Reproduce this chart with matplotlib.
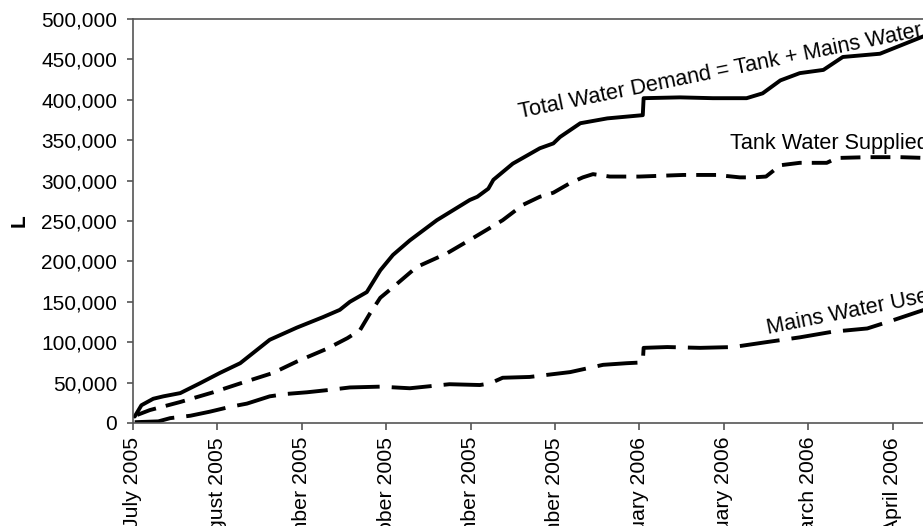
import matplotlib
matplotlib.use('Agg')
import matplotlib.pyplot as plt
from matplotlib.ticker import FuncFormatter

# x = months since 1 July 2005, y = thousands of litres (cumulative)
month_labels = ['July 2005', 'August 2005', 'September 2005', 'October 2005',
                'November 2005', 'December 2005', 'January 2006', 'February 2006',
                'March 2006', 'April 2006']

total_m = [0.02, 0.1, 0.24, 0.36, 0.56, 0.79, 1.03, 1.27, 1.62, 1.94, 2.25, 2.45,
           2.57, 2.77, 2.93, 3.08, 3.28, 3.6, 3.99, 4.08, 4.21, 4.27, 4.5, 4.82,
           4.98, 5.06, 5.3, 5.62, 6.04, 6.05, 6.48, 6.87, 7.27, 7.46, 7.67, 7.9,
           8.18, 8.41, 8.85, 9.4]
total_v = [8, 22, 30, 33, 37, 49, 62, 74, 103, 118, 131, 140,
           150, 162, 189, 208, 226, 251, 276, 280, 290, 301, 321, 340,
           346, 354, 371, 377, 381, 402, 403, 402, 402, 408, 424, 433,
           437, 453, 457, 480]

tank_m = [0.05, 0.2, 0.56, 0.95, 1.27, 1.66, 1.94, 2.3, 2.54, 2.69, 2.81, 2.93,
          3.08, 3.36, 3.72, 4.03, 4.19, 4.38, 4.62, 4.82, 4.98, 5.18, 5.33, 5.45,
          5.65, 6.0, 6.52, 6.91, 7.19, 7.35, 7.5, 7.67, 7.9, 8.22, 8.34, 8.7,
          9.09, 9.4]
tank_v = [10, 16, 26, 38, 49, 62, 76, 92, 105, 115, 136, 155,
          168, 193, 210, 229, 239, 251, 270, 280, 285, 297, 304, 308,
          305, 305, 307, 307, 304, 304, 305, 319, 322, 322, 328, 329,
          329, 328]

mains_m = [0.02, 0.3, 0.44, 0.68, 0.91, 1.15, 1.35, 1.62, 1.82, 2.06, 2.33, 2.57,
           2.93, 3.28, 3.75, 4.11, 4.23, 4.38, 4.7, 5.18, 5.57, 5.85, 6.04, 6.05,
           6.33, 6.72, 7.11, 7.5, 7.9, 8.29, 8.7, 9.0, 9.4]
mains_v = [1, 2, 6, 9, 14, 20, 24, 33, 36, 38, 41, 44,
           45, 43, 48, 47, 49, 56, 57, 63, 72, 74, 75, 93,
           94, 93, 94, 100, 106, 113, 117, 127, 141]

plt.rcParams['font.family'] = ['Liberation Sans', 'DejaVu Sans']

fig = plt.figure(figsize=(9.23, 5.26), dpi=100)
ax = fig.add_axes([133/923, 103/526, 844/923, 404/526])

lw = 2.8
ax.plot(total_m, [v*1000 for v in total_v], color='black', lw=lw,
        solid_joinstyle='round', solid_capstyle='round')
ax.plot(tank_m, [v*1000 for v in tank_v], color='black', lw=lw, dashes=(5.1, 2.6),
        dash_joinstyle='round')
ax.plot(mains_m, [v*1000 for v in mains_v], color='black', lw=lw, dashes=(10.3, 3.1),
        dash_joinstyle='round')

# line labels
ax.text(4.585, 377000, 'Total Water Demand = Tank + Mains Water', rotation=11.5,
        rotation_mode='anchor', ha='left', va='baseline', fontsize=15.6)
ax.text(7.07, 339000, 'Tank Water Supplied', ha='left', va='baseline', fontsize=15.6)
ax.text(7.52, 110000, 'Mains Water Used', rotation=11.3,
        rotation_mode='anchor', ha='left', va='baseline', fontsize=15.6)

ax.set_xlim(0, 10)
ax.set_ylim(0, 500000)
ax.set_yticks(range(0, 500001, 50000))
ax.yaxis.set_major_formatter(FuncFormatter(lambda y, p: f'{y:,.0f}'))
ax.set_xticks(range(len(month_labels)))
ax.set_xticklabels(month_labels, rotation=90, va='top')
ax.tick_params(axis='y', labelsize=15, length=4, width=1.2, pad=7.5, color='#555555')
ax.tick_params(axis='x', labelsize=15.3, length=5, width=1.2, pad=5, color='#555555')
ax.set_ylabel('L', fontsize=15, fontweight='bold')
ax.yaxis.set_label_coords(-(133-29)/844, 0.5)

for s in ax.spines.values():
    s.set_color('#555555')
    s.set_linewidth(1.2)

fig.savefig('out.png', dpi=100)
